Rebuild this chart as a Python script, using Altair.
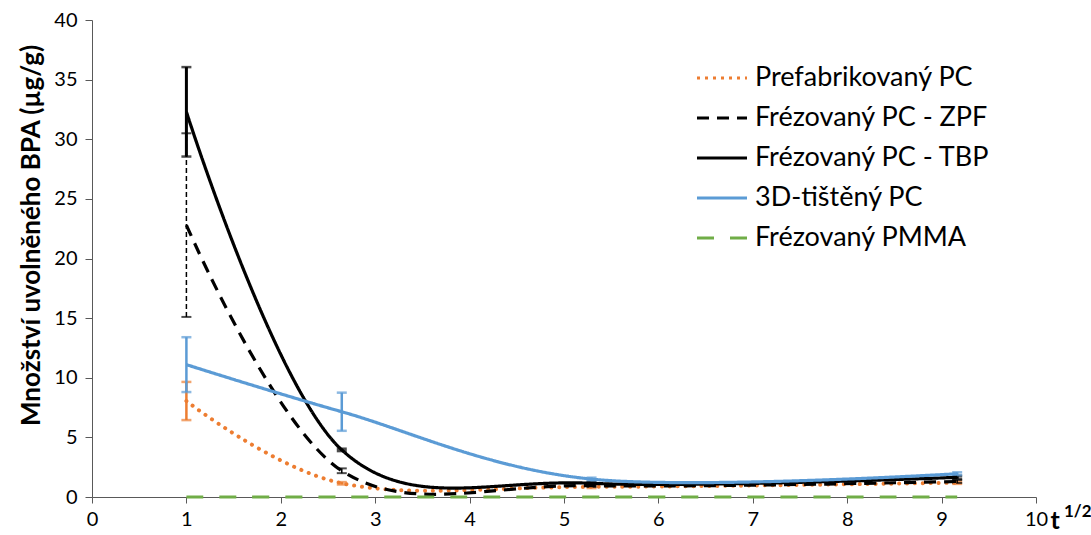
import altair as alt
import pandas as pd

# sqrt(t) sampling points
x_vals = [1.0, 2.646, 5.292, 9.165]

series_names = ["Prefabrikovaný PC", "Frézovaný PC - ZPF", "Frézovaný PC - TBP",
                "3D-tištěný PC", "Frézovaný PMMA"]

prefab = [8.05, 1.15, 0.85, 1.2]
zpf = [22.8, 2.2, 0.95, 1.3]
tbp = [32.3, 3.95, 1.15, 1.65]
printed = [11.1, 7.15, 1.5, 1.95]
pmma = [0.0, 0.0, 0.0, 0.0]

prefab_err = [1.6, 0.1, 0.1, 0.1]
zpf_err = [7.7, 0.2, 0.1, 0.12]
tbp_err = [3.75, 0.1, 0.1, 0.12]
printed_err = [2.3, 1.6, 0.12, 0.12]
pmma_err = [0.0, 0.0, 0.0, 0.0]

colors = ["#ED7D31", "#000000", "#000000", "#5B9BD5", "#70AD47"]
dashes = [[3, 5], [12, 8], [1, 0], [1, 0], [17, 16]]

y_ticks = [0, 5, 10, 15, 20, 25, 30, 35, 40]
x_ticks = [0, 1, 2, 3, 4, 5, 6, 7, 8, 9, 10]

values = [prefab, zpf, tbp, printed, pmma]
errors = [prefab_err, zpf_err, tbp_err, printed_err, pmma_err]

rows = []
for name, vals, errs in zip(series_names, values, errors):
    for xv, v, e in zip(x_vals, vals, errs):
        rows.append({"series": name, "x": xv, "y": v, "lo": v - e, "hi": v + e, "err": e})
df = pd.DataFrame(rows)

FONT = "Lato"

xs = alt.X("x:Q", scale=alt.Scale(domain=[0, 10], nice=False),
           axis=alt.Axis(values=x_ticks, format="d", title="t", titleFont=FONT, titleFontSize=25,
                         titleFontWeight="bold", titleColor="#000000",
                         titleX=958, titleY=31, titleAlign="left", titleBaseline="alphabetic",
                         labelFont=FONT, labelFontSize=20, labelColor="#000000",
                         labelPadding=6, tickSize=6, tickColor="#595959",
                         domainColor="#595959", grid=False, labelFlush=False))
ys = alt.Y("y:Q", scale=alt.Scale(domain=[0, 40], nice=False),
           axis=alt.Axis(values=y_ticks, title="Množství uvolněného BPA (µg/g)",
                         titleFont=FONT, titleFontSize=26, titleFontWeight="bold",
                         titleColor="#000000", titlePadding=9, titleY=215,
                         labelFont=FONT, labelFontSize=20, labelColor="#000000",
                         labelPadding=8, tickSize=7, tickColor="#595959",
                         domainColor="#595959", grid=False))

color_enc = alt.Color("series:N", scale=alt.Scale(domain=series_names, range=colors),
                      sort=series_names,
                      legend=alt.Legend(title=None, orient="none", legendX=603, legendY=31,
                                        symbolType="stroke", symbolSize=2500,
                                        symbolStrokeWidth=3.2, labelFont=FONT,
                                        labelFontSize=27, labelColor="#000000",
                                        labelLimit=500, labelOffset=6, rowPadding=-7))
dash_enc = alt.StrokeDash("series:N", scale=alt.Scale(domain=series_names, range=dashes),
                          sort=series_names, legend=None)

base = alt.Chart(df)

layers = []
# error bars (drawn under lines)
err_styles = {
    "Prefabrikovaný PC": dict(strokeWidth=2.5),
    "Frézovaný PC - ZPF": dict(strokeWidth=1.5, strokeDash=[5, 3]),
    "Frézovaný PC - TBP": dict(strokeWidth=3),
    "3D-tištěný PC": dict(strokeWidth=2.5),
}
for name, col in zip(series_names, colors):
    if name not in err_styles:
        continue
    sub = base.transform_filter(alt.datum.series == name)
    rule = sub.mark_rule(color=col, **err_styles[name]).encode(
        x=alt.X("x:Q", scale=alt.Scale(domain=[0, 10], nice=False)),
        y=alt.Y("lo:Q", scale=alt.Scale(domain=[0, 40], nice=False)),
        y2="hi:Q")
    caps = sub.transform_fold(["lo", "hi"], as_=["end", "val"]).mark_tick(
        orient="horizontal", color=col, size=10,
        thickness=2.5 if name != "Frézovaný PC - ZPF" else 2).encode(
        x=alt.X("x:Q", scale=alt.Scale(domain=[0, 10], nice=False)),
        y=alt.Y("val:Q", scale=alt.Scale(domain=[0, 40], nice=False)))
    layers += [rule, caps]

prefab_line = base.transform_filter(alt.datum.series == "Prefabrikovaný PC").mark_line(
    interpolate="cardinal", strokeWidth=4, strokeCap="round", strokeDash=[0.1, 7.8]).encode(
    x=xs, y=ys, color=color_enc)
other_lines = base.transform_filter(alt.datum.series != "Prefabrikovaný PC").mark_line(
    interpolate="cardinal", strokeWidth=3.2, strokeCap="butt").encode(
    x=xs, y=ys, color=color_enc, strokeDash=dash_enc)

sup = alt.Chart(pd.DataFrame({"t": ["1/2"]})).mark_text(
    font=FONT, fontSize=17, fontWeight="bold", align="left", baseline="alphabetic",
    color="#000000").encode(text="t:N", x=alt.value(972), y=alt.value(497))

chart = alt.layer(*layers, prefab_line, other_lines, sup).properties(
    width=944, height=477,
    autosize=alt.AutoSizeParams(type="none"),
    padding={"left": 92, "top": 20, "right": 55, "bottom": 38},
    background="#ffffff",
).configure_view(stroke=None)

chart.save("out.html", embed_options={"renderer": "svg", "actions": False})
